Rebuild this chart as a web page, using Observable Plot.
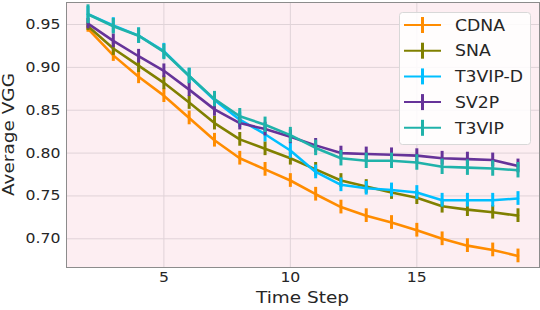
<!DOCTYPE html>
<html>
<head>
<meta charset="utf-8">
<script src="https://cdn.jsdelivr.net/npm/d3@7"></script>
<script src="https://cdn.jsdelivr.net/npm/@observablehq/plot@0.6"></script>
<style>
  html, body { margin: 0; padding: 0; background: #fff; }
  #chart { width: 540px; height: 310px; }
</style>
</head>
<body>
<div id="chart"></div>
<script>
const steps = [2, 3, 4, 5, 6, 7, 8, 9, 10, 11, 12, 13, 14, 15, 16, 17, 18, 19];
const seriesNames = ["CDNA", "SNA", "T3VIP-D", "SV2P", "T3VIP"];
const seriesColors = ["#ff8c00", "#808000", "#00bfff", "#663399", "#20b2aa"];

const cdna   = [0.945, 0.914, 0.889, 0.867, 0.841, 0.815, 0.794, 0.781, 0.768, 0.752, 0.737, 0.727, 0.719, 0.710, 0.700, 0.692, 0.687, 0.680];
const sna    = [0.948, 0.922, 0.902, 0.882, 0.859, 0.835, 0.816, 0.805, 0.794, 0.781, 0.768, 0.761, 0.754, 0.748, 0.738, 0.734, 0.731, 0.727];
const t3vipD = [0.962, 0.949, 0.937, 0.919, 0.890, 0.862, 0.839, 0.822, 0.803, 0.778, 0.763, 0.759, 0.757, 0.754, 0.745, 0.745, 0.745, 0.747];
const sv2p   = [0.951, 0.931, 0.913, 0.896, 0.874, 0.851, 0.835, 0.828, 0.819, 0.809, 0.800, 0.799, 0.798, 0.797, 0.794, 0.793, 0.792, 0.785];
const t3vip  = [0.962, 0.948, 0.937, 0.918, 0.890, 0.863, 0.843, 0.833, 0.821, 0.806, 0.794, 0.791, 0.791, 0.789, 0.784, 0.783, 0.782, 0.780];

const cdnaErr   = [0.004, 0.007, 0.008, 0.008, 0.008, 0.008, 0.008, 0.008, 0.008, 0.008, 0.008, 0.008, 0.008, 0.008, 0.008, 0.008, 0.008, 0.008];
const snaErr    = [0.005, 0.008, 0.008, 0.008, 0.008, 0.008, 0.008, 0.008, 0.008, 0.008, 0.008, 0.008, 0.008, 0.008, 0.008, 0.008, 0.008, 0.008];
const t3vipDErr = [0.009, 0.009, 0.009, 0.009, 0.009, 0.009, 0.009, 0.009, 0.009, 0.008, 0.008, 0.008, 0.008, 0.008, 0.008, 0.008, 0.008, 0.008];
const sv2pErr   = [0.006, 0.008, 0.008, 0.008, 0.008, 0.008, 0.008, 0.008, 0.008, 0.008, 0.008, 0.008, 0.008, 0.008, 0.008, 0.008, 0.008, 0.008];
const t3vipErr  = [0.011, 0.009, 0.009, 0.009, 0.009, 0.009, 0.009, 0.009, 0.009, 0.009, 0.009, 0.009, 0.009, 0.009, 0.009, 0.009, 0.009, 0.009];

const xTicks = [5, 10, 15];
const yTicks = [0.70, 0.75, 0.80, 0.85, 0.90, 0.95];
const xLabel = "Time Step";
const yLabel = "Average VGG";

const values = [cdna, sna, t3vipD, sv2p, t3vip];
const errors = [cdnaErr, snaErr, t3vipDErr, sv2pErr, t3vipErr];

const rows = [];
seriesNames.forEach((name, k) => {
  steps.forEach((t, i) => rows.push({series: name, t, v: values[k][i], e: errors[k][i]}));
});

const seriesMarks = [];
seriesNames.forEach(name => {
  const data = rows.filter(d => d.series === name);
  seriesMarks.push(
    Plot.ruleX(data, {x: "t", y1: d => d.v - d.e, y2: d => d.v + d.e, stroke: "series", strokeWidth: 3}),
    Plot.line(data, {x: "t", y: "v", stroke: "series", strokeWidth: 2.6})
  );
});

const W = 540, H = 310, mL = 66, mR = 1, mT = 2, mB = 43;
const SX = 1.12;

const plot = Plot.plot({
  width: W, height: H,
  marginLeft: mL, marginRight: mR, marginTop: mT, marginBottom: mB,
  style: {fontFamily: "DejaVu Sans", fontSize: "14px", color: "#262626", background: "transparent", overflow: "visible"},
  x: {domain: [1.15, 19.85]},
  y: {domain: [0.6665, 0.9757]},
  color: {domain: seriesNames, range: seriesColors},
  marks: [
    Plot.frame({fill: "#fdeef2", stroke: null}),
    Plot.gridX(xTicks, {stroke: "#e0d3d8", strokeOpacity: 1, strokeWidth: 1}),
    Plot.gridY(yTicks, {stroke: "#e0d3d8", strokeOpacity: 1, strokeWidth: 1}),
    Plot.axisX(xTicks, {tickSize: 0, tickPadding: 5, label: null, fontSize: 14, fill: "#262626"}),
    Plot.axisY(yTicks, {tickSize: 0, tickPadding: 6, label: null, fontSize: 14, tickFormat: d3.format(".2f"), fill: "#262626"}),
    ...seriesMarks,
    Plot.frame({stroke: "#8c8c8c", strokeWidth: 1})
  ]
});

document.getElementById("chart").appendChild(plot);
const svg = d3.select(plot);

// stretch tick labels horizontally to match the reference glyph widths
svg.selectAll('g[aria-label="x-axis tick label"] text, g[aria-label="y-axis tick label"] text').each(function () {
  const tr = this.getAttribute("transform") || "";
  this.setAttribute("transform", tr + ` scale(${SX},1)`);
});

// axis labels
svg.append("text")
  .attr("transform", `translate(${(mL + W - mR) / 2},303) scale(${SX},1)`)
  .attr("text-anchor", "middle")
  .attr("font-family", "DejaVu Sans").attr("font-size", 16.5).attr("fill", "#262626")
  .text(xLabel);
svg.append("text")
  .attr("transform", `translate(14,${(mT + H - mB) / 2}) rotate(-90) scale(${SX},1)`)
  .attr("text-anchor", "middle")
  .attr("font-family", "DejaVu Sans").attr("font-size", 16.5).attr("fill", "#262626")
  .text(yLabel);

// legend
const lg = svg.append("g").attr("text-anchor", "start");
lg.append("rect")
  .attr("x", 399.5).attr("y", 12.5).attr("width", 131).attr("height", 132).attr("rx", 3)
  .attr("fill", "#ffffff").attr("fill-opacity", 0.85)
  .attr("stroke", "#d8d8d8").attr("stroke-width", 1);
seriesNames.forEach((name, k) => {
  const cy = 25 + k * 25.7;
  const c = seriesColors[k];
  lg.append("line").attr("x1", 404).attr("x2", 441).attr("y1", cy).attr("y2", cy).attr("stroke", c).attr("stroke-width", 2);
  lg.append("line").attr("x1", 422.5).attr("x2", 422.5).attr("y1", cy - 8).attr("y2", cy + 8).attr("stroke", c).attr("stroke-width", 3);
  lg.append("text")
    .attr("transform", `translate(455,${cy}) scale(1.08,1)`)
    .attr("dy", "0.36em")
    .attr("text-anchor", "start")
    .attr("font-family", "DejaVu Sans").attr("font-size", 16).attr("fill", "#262626")
    .text(name);
});
</script>
</body>
</html>
